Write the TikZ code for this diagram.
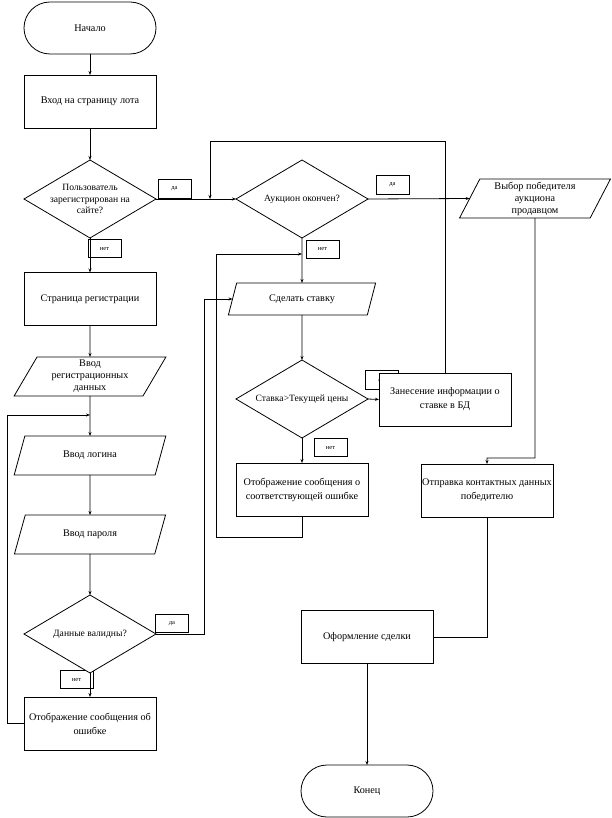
\documentclass[tikz,border=0pt]{standalone}
\usepackage{fontspec}
\setmainfont{Liberation Serif}
\usetikzlibrary{shapes.geometric,arrows.meta,calc}
\begin{document}
\begin{tikzpicture}[x=1pt,y=-1pt,
  line width=0.8pt,
  every node/.style={font=\fontsize{10.2}{14}\selectfont, align=center, inner sep=0pt, outer sep=0pt},
  box/.style={draw, fill=white, minimum width=132pt, minimum height=53pt},
  term/.style={draw, fill=white, rounded corners=26pt, minimum width=132pt, minimum height=52pt},
  ioa/.style={draw, fill=white, trapezium, trapezium stretches=true, trapezium left angle=63, trapezium right angle=117, minimum width=152pt, minimum height=39pt, font=\fontsize{10.2}{12}\selectfont},
  iob/.style={draw, fill=white, trapezium, trapezium stretches=true, trapezium left angle=65, trapezium right angle=115, minimum width=148pt, minimum height=32pt},
  ioc/.style={draw, fill=white, trapezium, trapezium stretches=true, trapezium left angle=66, trapezium right angle=114, minimum width=151pt, minimum height=39pt, font=\fontsize{10.2}{12}\selectfont},
  dec/.style={draw, fill=white, diamond, minimum width=132pt, minimum height=78pt},
  dtext/.style={font=\fontsize{9.6}{11.5}\selectfont},
  lbl/.style={draw, fill=white, minimum width=33pt, minimum height=18.5pt, font=\fontsize{6.5}{7}\selectfont},
  arr/.style={-{Stealth[length=4pt,width=3pt]}}
]
\useasboundingbox (0,0) rectangle (611,818);

% label boxes
\node[lbl] (l1) at (174.5,189) {да};
\node[lbl] (l2) at (392.5,185) {да};
\node[lbl] (l3) at (104.5,248.5) {нет};
\node[lbl] (l4) at (322.5,249.5) {нет};
\node[lbl] (l5) at (381.5,380) {да};
\node[lbl] (l6) at (330.5,447.5) {нет};
\node[lbl] (l7) at (172,623.5) {да};
\node[lbl] (l8) at (76.5,679.5) {нет};

% main column
\node[term] (start) at (90,28) {Начало};
\node[box] (vhod) at (90,101.5) {Вход на страницу лота};
\node[dec] (d1) at (90,199) {};
\node[dtext] at (d1) {Пользователь\\зарегистрирован на\\сайте?};
\node[box] (reg) at (90,299) {Страница регистрации};
\node[ioa] (vreg) at (90,376.5) {Ввод\\регистрационных\\данных};
\node[ioa] (login) at (90,455.5) {Ввод логина};
\node[ioa] (parol) at (90,534.5) {Ввод пароля};
\node[dec] (d3) at (90,634) {};
\node[dtext] at (d3) {Данные валидны?};
\node[box] (err1) at (90,723.5) {Отображение сообщения об\\ошибке};

% middle column
\node[dec] (d2) at (302,199) {};
\node[dtext] at (d2) {Аукцион окончен?};
\node[iob] (stavka) at (302,299) {Сделать ставку};
\node[dec] (d4) at (302,399) {};
\node[dtext] at (d4) {Ставка>Текущей цены};
\node[box] (err2) at (302,489.5) {Отображение сообщения о\\соответствующей ошибке};
\node[box] (zan) at (445,399.5) {Занесение информации о\\ставке в БД};

% right column
\node[ioc] (vybor) at (535,198.5) {Выбор победителя\\аукциона\\продавцом};
\node[box] (otpr) at (487,490.5) {Отправка контактных данных\\победителю};
\node[box] (of) at (367,637) {Оформление сделки};
\node[term] (fin) at (367,791) {Конец};

% bend coordinates
\coordinate (j1) at (210,199);
\coordinate (t1) at (445,141);
\coordinate (j2) at (90,415);
\coordinate (lx) at (7,415);
\coordinate (c3) at (204,634);
\coordinate (j3) at (302,254);
\coordinate (lx2) at (216,537);
\coordinate (c4) at (535,458);
\coordinate (c5) at (487,636);

% connectors
\draw[arr] (start) -- (vhod);
\draw[arr] (vhod) -- (d1);
\draw[arr] (d1.east) -- (d2.west);
\draw[arr] (zan.north) -- (t1) -| (j1);
\draw[arr] (d2.east) -- (vybor.west);
\draw[arr] (d1.south) -- (reg.north);
\draw[arr] (reg) -- (vreg);
\draw[arr] (vreg) -- (login);
\draw[arr] (err1.west) -| (lx) -- (j2);
\draw[arr] (login) -- (parol);
\draw[arr] (parol) -- (d3);
\draw[arr] (d3.south) -- (err1.north);
\draw[arr] (d3.east) -- (c3) |- (stavka.west);
\draw[arr] (d2.south) -- (stavka.north);
\draw[arr] (stavka.south) -- (d4.north);
\draw[arr] (d4.east) -- (zan.west);
\draw[arr] (d4.south) -- (err2.north);
\draw[arr] (err2.south) |- (lx2) |- (j3);
\draw[arr] (vybor.south) -- (c4) -| (otpr.north);
\draw (otpr.south) |- (of.east);
\draw[arr] (of.south) -- (fin.north);
\end{tikzpicture}
\end{document}
